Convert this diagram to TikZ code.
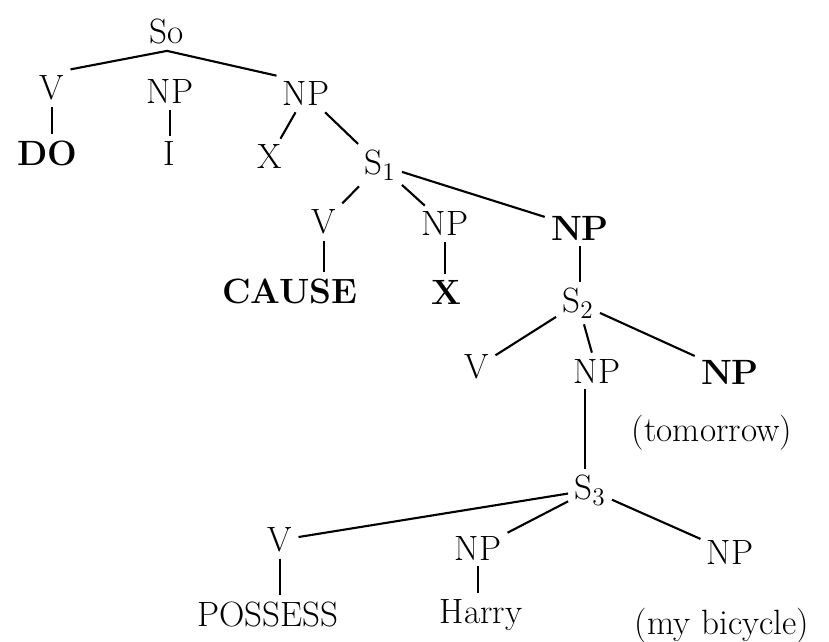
\documentclass[tikz,border=0pt]{standalone}
\usepackage{fontspec}
\usepackage{tikz}

\begin{document}
\begin{tikzpicture}[line width=1.2pt,
    every node/.style={font=\fontsize{20}{24}\selectfont, inner sep=3pt},
    lex/.style={font=\fontsize{20}{24}\selectfont\bfseries}]
  \useasboundingbox (0,0) rectangle (16.58,12.82);
  % top level
  \node (so) at (3.34,12.18) {So};
  \node (v0) at (1.04,11.06) {V};
  \node (np0) at (3.40,10.98) {NP};
  \node (np1) at (6.12,10.94) {NP};
  \node[lex] (do) at (0.94,9.76) {DO};
  \node (i) at (3.38,9.74) {I};
  \node (x0) at (5.40,9.68) {X};
  \draw (so.south) -- (v0.north east);
  \draw (so.south) -- (np1.north west);
  \draw (v0) -- (v0 |- do.north);
  \draw (np0) -- (np0 |- i.north);
  \draw (np1) -- (x0);
  % S1
  \node (s1) at (7.60,9.52) {S$_1$};
  \node (v1) at (6.48,8.38) {V};
  \node (np2) at (8.90,8.34) {NP};
  \node[lex] (np3) at (11.60,8.26) {NP};
  \node[lex] (cause) at (5.80,7.00) {CAUSE};
  \node[lex] (x1) at (8.92,6.98) {X};
  \draw (np1) -- (s1);
  \draw (s1) -- (v1);
  \draw (s1) -- (np2);
  \draw (s1) -- (np3);
  \draw (v1) -- (v1 |- cause.north);
  \draw (np2) -- (np2 |- x1.north);
  % S2
  \node (s2) at (11.56,6.76) {S$_2$};
  \node (v2) at (9.54,5.48) {V};
  \node (np4) at (11.94,5.40) {NP};
  \node[lex] (np5) at (14.60,5.38) {NP};
  \node (tomorrow) at (14.24,4.16) {(tomorrow)};
  \draw (np3) -- (np3 |- s2.north);
  \draw (s2) -- (v2);
  \draw (s2) -- (np4);
  \draw (s2) -- (np5);
  % S3
  \node (s3) at (11.80,3.02) {S$_3$};
  \node (v3) at (5.60,2.02) {V};
  \node (np6) at (9.56,1.86) {NP};
  \node (np7) at (14.60,1.78) {NP};
  \node (possess) at (5.36,0.54) {POSSESS};
  \node (harry) at (9.62,0.52) {Harry};
  \node (bicycle) at (14.44,0.30) {(my bicycle)};
  \draw (np4.south west) ++(0.35,0) coordinate (c4) -- (c4 |- s3.north);
  \draw (s3) -- (v3);
  \draw (s3) -- (np6);
  \draw (s3) -- (np7);
  \draw (v3) -- (v3 |- possess.north);
  \draw (np6) -- (np6 |- harry.north);
\end{tikzpicture}
\end{document}
